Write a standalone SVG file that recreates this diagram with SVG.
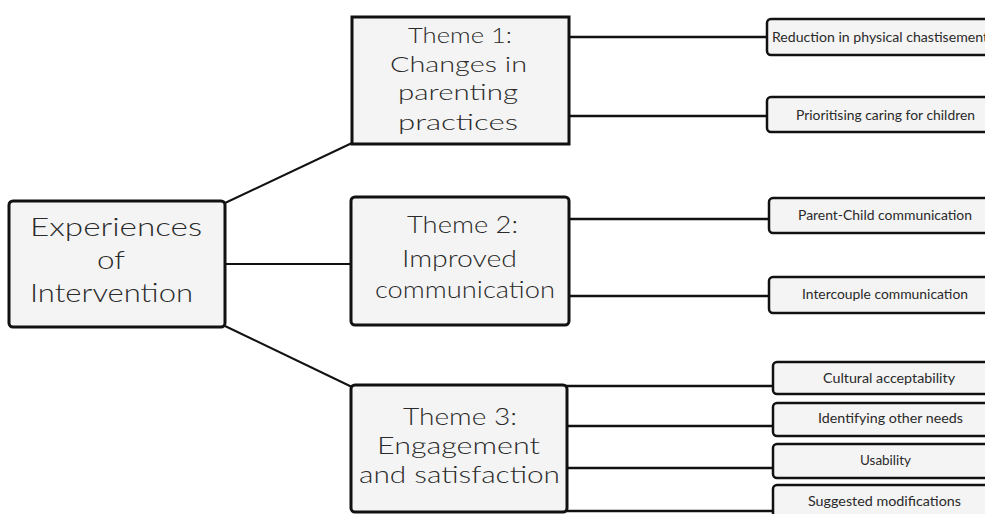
<svg xmlns="http://www.w3.org/2000/svg" width="985" height="514" viewBox="0 0 985 514">
<style>
  .box { fill: #f4f4f4; stroke: #111; stroke-width: 3; }
  .leaf { fill: #f4f4f4; stroke: #111; stroke-width: 2.5; }
  .big { font-family: Lato, "DejaVu Sans", sans-serif; font-weight: 300; font-size: 25px; fill: #2a2a2a; }
  .mid { font-family: Lato, "DejaVu Sans", sans-serif; font-weight: 300; font-size: 24px; fill: #2a2a2a; }
  .mid2 { font-family: Lato, "DejaVu Sans", sans-serif; font-weight: 300; font-size: 22px; fill: #2a2a2a; }
  .small { font-family: Lato, "DejaVu Sans", sans-serif; font-weight: 400; font-size: 12.5px; fill: #2a2a2a; }
  .conn line { stroke: #111; stroke-width: 2.5; }
  .conn .thin { stroke-width: 2; }
</style>
<rect width="985" height="514" fill="#ffffff"/>
<g class="conn" id="connectors">
  <line class="thin" x1="225" y1="203" x2="352" y2="143"/>
  <line class="thin" x1="225" y1="264" x2="351" y2="264"/>
  <line class="thin" x1="225" y1="326" x2="352" y2="387"/>
  <line x1="569" y1="37" x2="767" y2="37"/>
  <line x1="569" y1="116" x2="767" y2="116"/>
  <line x1="569" y1="219" x2="769" y2="219"/>
  <line x1="569" y1="296" x2="769" y2="296"/>
  <line x1="566" y1="386" x2="773" y2="386"/>
  <line x1="566" y1="426" x2="773" y2="426"/>
  <line x1="566" y1="468" x2="773" y2="468"/>
  <line x1="566" y1="511" x2="773" y2="511"/>
</g>
<g id="root">
  <rect class="box" x="9" y="201" width="216" height="126" rx="4"/>
  <text class="big" x="30" y="236" textLength="172" lengthAdjust="spacingAndGlyphs">Experiences</text>
  <text class="big" x="97" y="269" textLength="28" lengthAdjust="spacingAndGlyphs">of</text>
  <text class="big" x="30" y="302" textLength="163" lengthAdjust="spacingAndGlyphs">Intervention</text>
</g>
<g id="theme1">
  <rect class="box" x="352" y="17" width="217" height="127"/>
  <text class="mid2" x="408" y="43" textLength="104" lengthAdjust="spacingAndGlyphs">Theme 1:</text>
  <text class="mid2" x="390" y="72" textLength="137" lengthAdjust="spacingAndGlyphs">Changes in</text>
  <text class="mid2" x="398" y="100" textLength="120" lengthAdjust="spacingAndGlyphs">parenting</text>
  <text class="mid2" x="398" y="130" textLength="120" lengthAdjust="spacingAndGlyphs">practices</text>
</g>
<g id="theme2">
  <rect class="box" x="351" y="197" width="218" height="128" rx="4"/>
  <text class="mid" x="407" y="233" textLength="111" lengthAdjust="spacingAndGlyphs">Theme 2:</text>
  <text class="mid" x="402" y="267" textLength="115" lengthAdjust="spacingAndGlyphs">Improved</text>
  <text class="mid" x="375" y="298" textLength="180" lengthAdjust="spacingAndGlyphs">communication</text>
</g>
<g id="theme3">
  <rect class="box" x="351" y="385" width="216" height="127" rx="4"/>
  <text class="mid" x="403" y="425" textLength="114" lengthAdjust="spacingAndGlyphs">Theme 3:</text>
  <text class="mid" x="377" y="454" textLength="163" lengthAdjust="spacingAndGlyphs">Engagement</text>
  <text class="mid" x="359" y="483" textLength="201" lengthAdjust="spacingAndGlyphs">and satisfaction</text>
</g>
<g id="leaf1">
  <rect class="leaf" x="767" y="19" width="230" height="36" rx="4"/>
  <text class="small" x="772" y="42" textLength="216" lengthAdjust="spacingAndGlyphs">Reduction in physical chastisement</text>
</g>
<g id="leaf2">
  <rect class="leaf" x="767" y="97" width="230" height="35" rx="4"/>
  <text class="small" x="796" y="120" textLength="179" lengthAdjust="spacingAndGlyphs">Prioritising caring for children</text>
</g>
<g id="leaf3">
  <rect class="leaf" x="769" y="198" width="230" height="35" rx="4"/>
  <text class="small" x="798" y="220" textLength="174" lengthAdjust="spacingAndGlyphs">Parent-Child communication</text>
</g>
<g id="leaf4">
  <rect class="leaf" x="769" y="277" width="230" height="36" rx="4"/>
  <text class="small" x="802" y="299" textLength="166" lengthAdjust="spacingAndGlyphs">Intercouple communication</text>
</g>
<g id="leaf5">
  <rect class="leaf" x="773" y="362" width="226" height="32" rx="4"/>
  <text class="small" x="823" y="383" textLength="132" lengthAdjust="spacingAndGlyphs">Cultural acceptability</text>
</g>
<g id="leaf6">
  <rect class="leaf" x="773" y="403" width="226" height="33" rx="4"/>
  <text class="small" x="818" y="423" textLength="145" lengthAdjust="spacingAndGlyphs">Identifying other needs</text>
</g>
<g id="leaf7">
  <rect class="leaf" x="773" y="444" width="226" height="34" rx="4"/>
  <text class="small" x="860" y="465" textLength="51" lengthAdjust="spacingAndGlyphs">Usability</text>
</g>
<g id="leaf8">
  <rect class="leaf" x="773" y="485" width="226" height="40" rx="4"/>
  <text class="small" x="808" y="506" textLength="153" lengthAdjust="spacingAndGlyphs">Suggested modifications</text>
</g>
</svg>
